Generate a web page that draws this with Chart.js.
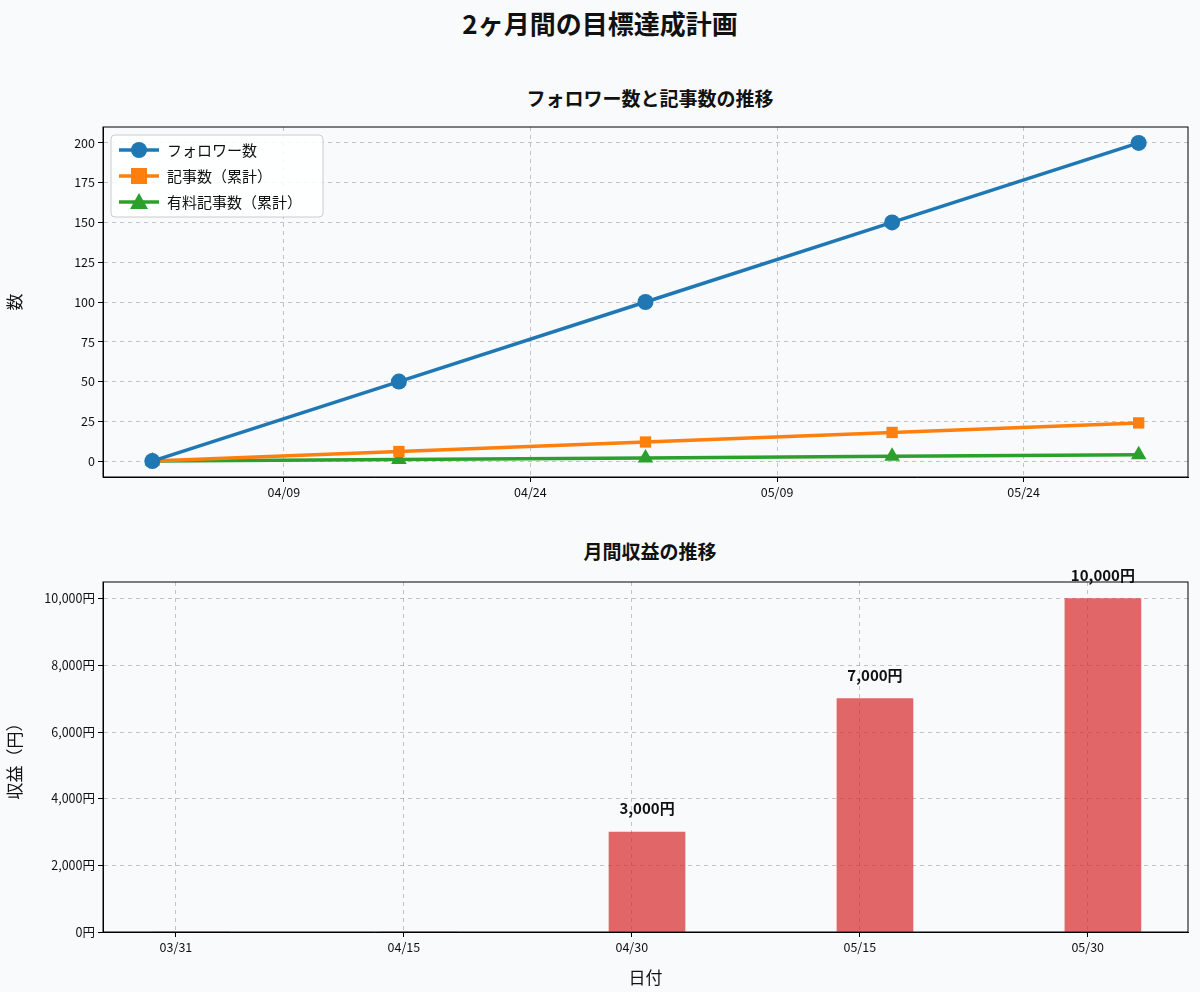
<!DOCTYPE html>
<html><head><meta charset="utf-8">
<script src="https://cdn.jsdelivr.net/npm/chart.js@4"></script>
<style>
body{margin:0;background:#f8fafc;font-family:"Noto Sans CJK JP",sans-serif;}
#wrap{position:relative;width:1200px;height:992px;}
.t{position:absolute;left:0;width:1200px;text-align:center;font-weight:bold;color:#111;}
.c{position:absolute;left:0;width:1200px;}
</style></head><body>
<div id="wrap">
  <div class="t" style="top:4px;font-size:26px">2ヶ月間の目標達成計画</div>
  <div class="t" style="top:84px;font-size:19px;left:50px">フォロワー数と記事数の推移</div>
  <div class="t" style="top:537px;font-size:19px;left:50px">月間収益の推移</div>
  <div class="c" style="top:0;height:520px"><canvas id="top"></canvas></div>
  <div class="c" style="top:520px;height:472px"><canvas id="bottom"></canvas></div>
</div>
<script>
// dates as days since 03/31
const milestoneDates = ["04/01", "04/16", "05/01", "05/16", "05/31"];
const followers = [0, 50, 100, 150, 200];
const articles = [0, 6, 12, 18, 24];
const paidArticles = [0, 1, 2, 3, 4];
const revenue = [0, 0, 3000, 7000, 10000];
const topTickDates = ["04/09", "04/24", "05/09", "05/24"];
const bottomTickDates = ["03/31", "04/15", "04/30", "05/15", "05/30"];

const FONT = '"Noto Sans CJK JP", sans-serif';
const GRID = "rgba(0,0,0,0.22)";

function toDay(s) {
  const [m, d] = s.split("/").map(Number);
  return Math.round((Date.UTC(2025, m - 1, d) - Date.UTC(2025, 2, 31)) / 86400000);
}
function fromDay(n) {
  const dt = new Date(Date.UTC(2025, 2, 31) + n * 86400000);
  return String(dt.getUTCMonth() + 1).padStart(2, "0") + "/" + String(dt.getUTCDate()).padStart(2, "0");
}
const days = milestoneDates.map(toDay);
const pts = (arr) => arr.map((v, i) => ({ x: days[i], y: v }));

Chart.defaults.font.family = FONT;
Chart.defaults.color = "#111";

const frame = {
  id: "frame",
  afterDraw(c) {
    const a = c.chartArea, ctx = c.ctx;
    ctx.save();
    ctx.strokeStyle = "#000";
    ctx.lineWidth = 1;
    ctx.strokeRect(a.left, a.top, a.right - a.left, a.bottom - a.top);
    ctx.restore();
  },
};

const legendBox = {
  id: "legendBox",
  afterDraw(c) {
    const a = c.chartArea, ctx = c.ctx;
    const x = a.left + 8, y = a.top + 8;
    ctx.save();
    ctx.fillStyle = "rgba(255,255,255,0.85)";
    ctx.strokeStyle = "#ccc";
    ctx.beginPath();
    ctx.roundRect(x, y, 212, 82, 4);
    ctx.fill();
    ctx.stroke();
    ctx.font = "15px " + FONT;
    ctx.textBaseline = "middle";
    c.data.datasets.forEach((ds, i) => {
      const cy = y + 15 + i * 26;
      ctx.strokeStyle = ds.borderColor;
      ctx.lineWidth = 3.5;
      ctx.beginPath(); ctx.moveTo(x + 8, cy); ctx.lineTo(x + 48, cy); ctx.stroke();
      ctx.fillStyle = ds.borderColor;
      ctx.beginPath();
      if (ds.pointStyle === "circle") ctx.arc(x + 28, cy, 8, 0, Math.PI * 2);
      else if (ds.pointStyle === "rect") ctx.rect(x + 20, cy - 8, 16, 16);
      else { ctx.moveTo(x + 28, cy - 9); ctx.lineTo(x + 37, cy + 7); ctx.lineTo(x + 19, cy + 7); ctx.closePath(); }
      ctx.fill();
      ctx.fillStyle = "#111";
      ctx.fillText(ds.label, x + 56, cy);
    });
    ctx.restore();
  },
};

const barLabels = {
  id: "barLabels",
  afterDatasetsDraw(c) {
    const ctx = c.ctx, meta = c.getDatasetMeta(0);
    ctx.save();
    ctx.font = "bold 15px " + FONT;
    ctx.textAlign = "center";
    ctx.fillStyle = "#111";
    meta.data.forEach((bar, i) => {
      if (!revenue[i]) return;
      ctx.fillText(revenue[i].toLocaleString("en-US") + "円", bar.x, bar.y - 18);
    });
    ctx.restore();
  },
};

function gridOpts() {
  return { color: GRID, tickBorderDash: [0], drawTicks: true, tickColor: "#000", tickLength: 5 };
}

new Chart(document.getElementById("top"), {
  type: "line",
  data: {
    datasets: [
      { label: "フォロワー数", data: pts(followers), borderColor: "#1f77b4", backgroundColor: "#1f77b4", pointStyle: "circle", pointRadius: 8 },
      { label: "記事数（累計）", data: pts(articles), borderColor: "#ff7f0e", backgroundColor: "#ff7f0e", pointStyle: "rect", pointRadius: 8 },
      { label: "有料記事数（累計）", data: pts(paidArticles), borderColor: "#2ca02c", backgroundColor: "#2ca02c", pointStyle: "triangle", pointRadius: 9 },
    ],
  },
  options: {
    responsive: true, maintainAspectRatio: false, animation: false,
    borderWidth: 3.5,
    elements: { line: { borderWidth: 3.5 }, point: { borderWidth: 0 } },
    layout: { padding: { top: 127, right: 12, left: 0, bottom: 0 } },
    plugins: { legend: { display: false }, tooltip: { enabled: false } },
    scales: {
      x: {
        type: "linear", min: -2, max: 64,
        afterBuildTicks: (s) => { s.ticks = topTickDates.map((d) => ({ value: toDay(d) })); },
        ticks: { callback: (v) => fromDay(v), font: { size: 12.5 }, maxRotation: 0 },
        grid: { ...gridOpts() }, border: { dash: [4, 4], color: "#000" },
        afterFit: (s) => { s.height = 43; },
      },
      y: {
        min: -10, max: 210,
        afterBuildTicks: (s) => { s.ticks = [0, 25, 50, 75, 100, 125, 150, 175, 200].map((v) => ({ value: v })); },
        ticks: { font: { size: 12.5 } },
        title: { display: true, text: "数", font: { size: 17 } },
        grid: { ...gridOpts() }, border: { dash: [4, 4], color: "#000" },
        afterFit: (s) => { s.width = 103; },
      },
    },
  },
  plugins: [frame, legendBox],
});

new Chart(document.getElementById("bottom"), {
  type: "bar",
  data: {
    datasets: [
      { label: "収益", data: pts(revenue), backgroundColor: "rgba(214,39,40,0.7)", barThickness: 76 },
    ],
  },
  options: {
    responsive: true, maintainAspectRatio: false, animation: false,
    layout: { padding: { top: 62, right: 12, left: 0, bottom: 0 } },
    plugins: { legend: { display: false }, tooltip: { enabled: false } },
    scales: {
      x: {
        type: "linear", min: -4.8, max: 66.6, offset: false,
        afterBuildTicks: (s) => { s.ticks = bottomTickDates.map((d) => ({ value: toDay(d) })); },
        ticks: { callback: (v) => fromDay(v), font: { size: 12.5 }, maxRotation: 0 },
        title: { display: true, text: "日付", font: { size: 17 }, padding: { top: 2 } },
        grid: { ...gridOpts(), offset: false }, border: { dash: [4, 4], color: "#000" },
        afterFit: (s) => { s.height = 60; },
      },
      y: {
        min: 0, max: 10500,
        afterBuildTicks: (s) => { s.ticks = [0, 2000, 4000, 6000, 8000, 10000].map((v) => ({ value: v })); },
        ticks: { font: { size: 12.5 }, callback: (v) => v.toLocaleString("en-US") + "円" },
        title: { display: true, text: "収益（円）", font: { size: 17 } },
        grid: { ...gridOpts() }, border: { dash: [4, 4], color: "#000" },
        afterFit: (s) => { s.width = 103; },
      },
    },
  },
  plugins: [frame, barLabels],
});
</script>
</body></html>
